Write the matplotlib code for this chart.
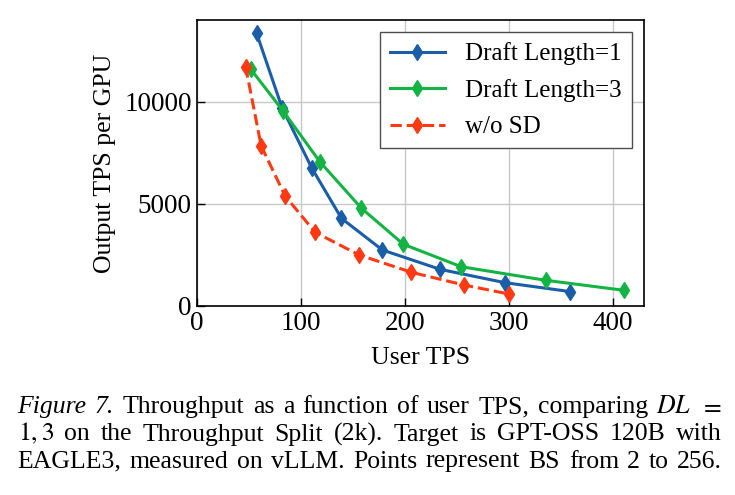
import matplotlib
matplotlib.use("Agg")
import matplotlib.pyplot as plt

plt.rcParams['font.family'] = ['Liberation Serif', 'DejaVu Serif']
plt.rcParams['mathtext.fontset'] = 'stix'

# data
dl1_user_tps = [57.6, 82.2, 110.7, 139.2, 178.5, 234.2, 296.2, 359.2]
dl1_output_tps = [13350, 9680, 6740, 4280, 2730, 1780, 1130, 690]

dl3_user_tps = [51.8, 82.8, 118.3, 158.3, 198.7, 254.3, 335.5, 410.7]
dl3_output_tps = [11600, 9560, 7060, 4780, 3010, 1910, 1245, 755]

nosd_user_tps = [47.0, 62.0, 85.0, 113.8, 156.0, 206.3, 256.8, 300.0]
nosd_output_tps = [11720, 7830, 5380, 3600, 2490, 1640, 1015, 575]

series_labels = ["Draft Length=1", "Draft Length=3", "w/o SD"]
x_ticks = [0, 100, 200, 300, 400]
y_ticks = [0, 5000, 10000]

caption_lines = [
    [("Figure", "italic"), ("7.", "italic"), ("Throughput", "normal"), ("as", "normal"), ("a", "normal"),
     ("function", "normal"), ("of", "normal"), ("user", "normal"), ("TPS,", "normal"),
     ("comparing", "normal"), ("$DL$", "normal"), ("$=$", "normal")],
    [("$1,3$", "normal"), ("on", "normal"), ("the", "normal"), ("Throughput", "normal"), ("Split", "normal"),
     ("(2k).", "normal"), ("Target", "normal"), ("is", "normal"), ("GPT-OSS", "normal"),
     ("120B", "normal"), ("with", "normal")],
    [("EAGLE3,", "normal"), ("measured", "normal"), ("on", "normal"), ("vLLM.", "normal"),
     ("Points", "normal"), ("represent", "normal"), ("BS", "normal"), ("from", "normal"),
     ("2", "normal"), ("to", "normal"), ("256.", "normal")],
]

fig_width_px = 735
fig_height_px = 495
fig = plt.figure(figsize=(7.35, 4.95), dpi=100)
ax = fig.add_axes([0.2676, 0.3824, 0.6086, 0.5772])

ax.plot(dl1_user_tps, dl1_output_tps, color='#1a5ea8', marker='d', markersize=8, linewidth=2.2,
        label=series_labels[0])
ax.plot(dl3_user_tps, dl3_output_tps, color='#13b443', marker='d', markersize=8, linewidth=2.2,
        label=series_labels[1])
ax.plot(nosd_user_tps, nosd_output_tps, color='#ff3a12', marker='d', markersize=8, linewidth=2.2,
        linestyle='--', label=series_labels[2])

ax.set_xlim(0, 430)
ax.set_ylim(0, 14000)
ax.set_xticks(x_ticks)
ax.set_yticks(y_ticks)
ax.tick_params(direction='in', length=6, width=1, labelsize=19.5)
ax.grid(True, color='#c8c8c8', linewidth=1)
ax.set_axisbelow(True)
for spine in ax.spines.values():
    spine.set_linewidth(1.2)

ax.set_xlabel("User TPS", fontsize=18.5, labelpad=8)
ax.set_ylabel("Output TPS per GPU", fontsize=18.5, labelpad=6)

legend = ax.legend(loc='upper right', fontsize=18, fancybox=False, framealpha=1,
                   edgecolor='0.3', labelspacing=0.55, handlelength=2.2)
legend.get_frame().set_linewidth(1)

# caption, justified word by word like the LaTeX paragraph
caption_left = 17.5
caption_right = 722.0
caption_baselines = [413.0, 440.5, 467.5]
fig.canvas.draw()
renderer = fig.canvas.get_renderer()
for words, baseline in zip(caption_lines, caption_baselines):
    texts = []
    for word, style in words:
        texts.append(fig.text(0, 1 - baseline / fig_height_px, word, fontsize=18.5, style=style,
                              va='baseline', ha='left'))
    widths = [t.get_window_extent(renderer).width for t in texts]
    gap = (caption_right - caption_left - sum(widths)) / (len(texts) - 1)
    x_position = caption_left
    for t, w in zip(texts, widths):
        t.set_x(x_position / fig_width_px)
        x_position += w + gap

fig.savefig("out.png", dpi=100)
